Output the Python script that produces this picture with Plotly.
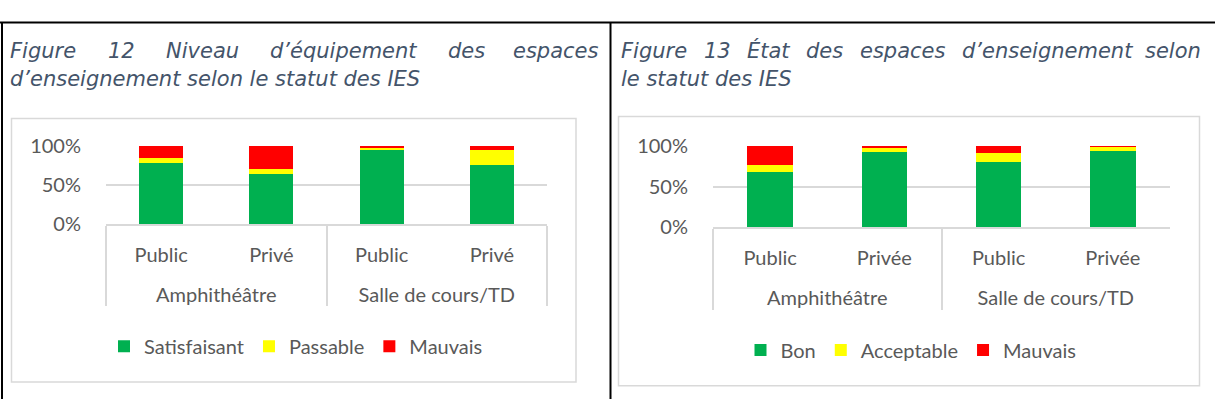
import plotly.graph_objects as go

W, H = 1215, 410

# ---------------- data ----------------
groups = ["Amphithéâtre", "Amphithéâtre", "Salle de cours/TD", "Salle de cours/TD"]
statut12 = ["Public", "Privé", "Public", "Privé"]
statut13 = ["Public", "Privée", "Public", "Privée"]

satisfaisant = [0.78, 0.64, 0.94, 0.75]
passable = [0.06, 0.06, 0.04, 0.20]
mauvais12 = [0.16, 0.30, 0.02, 0.05]

bon = [0.68, 0.92, 0.80, 0.93]
acceptable = [0.08, 0.06, 0.11, 0.06]
mauvais13 = [0.24, 0.02, 0.09, 0.01]

title12_line1 = ["Figure", "12", "Niveau", "d’équipement", "des", "espaces"]
title12_line2 = "d’enseignement selon le statut des IES"
title13_line1 = ["Figure", "13", "État", "des", "espaces", "d’enseignement", "selon"]
title13_line2 = "le statut des IES"

GREEN, YELLOW, RED = "#00B050", "#FFFF00", "#FF0000"
GRID = "#D9D9D9"
TXT = "#595959"
TITLE = "#44546A"
FONT = "Lato"


def px(x):
    return x / W


def py(y):
    return 1 - y / H


def lvl1(labels):
    # extra blank line under first-level labels to push the group labels lower
    return [s + "<br>\u00a0" for s in labels]


fig = go.Figure()

for name, vals, col in [("Satisfaisant", satisfaisant, GREEN),
                        ("Passable", passable, YELLOW),
                        ("Mauvais", mauvais12, RED)]:
    fig.add_trace(go.Bar(x=[groups, lvl1(statut12)], y=vals, name=name,
                         marker=dict(color=col, line=dict(width=0)),
                         xaxis="x", yaxis="y", legend="legend",
                         hoverinfo="skip"))

for name, vals, col in [("Bon", bon, GREEN),
                        ("Acceptable", acceptable, YELLOW),
                        ("Mauvais", mauvais13, RED)]:
    fig.add_trace(go.Bar(x=[groups, lvl1(statut13)], y=vals, name=name,
                         marker=dict(color=col, line=dict(width=0)),
                         xaxis="x2", yaxis="y2", legend="legend2",
                         hoverinfo="skip"))

tickfont = dict(family=FONT, size=20, color=TXT)

xcommon = dict(type="multicategory", showline=True, linecolor=GRID, linewidth=1.5,
               ticks="", tickfont=tickfont, showdividers=True,
               dividercolor=GRID, dividerwidth=1.5, showgrid=False,
               ticklabelstandoff=12, fixedrange=True)
ycommon = dict(range=[0, 1], tickvals=[0, 0.5, 1], tickformat=".0%",
               showgrid=True, gridcolor=GRID, gridwidth=1.5, zeroline=False,
               showline=False, ticks="", tickfont=tickfont,
               ticklabelstandoff=24, fixedrange=True)

legcommon = dict(orientation="h", xanchor="center", yanchor="middle",
                 traceorder="normal",
                 font=dict(family=FONT, size=20, color=TXT),
                 bgcolor="rgba(0,0,0,0)", itemclick=False, itemdoubleclick=False)

shapes = [
    # black table borders
    dict(type="line", xref="paper", yref="paper", x0=0, x1=1, y0=py(10), y1=py(10),
         line=dict(color="black", width=2)),
    dict(type="line", xref="paper", yref="paper", x0=px(2), x1=px(2), y0=py(10), y1=0,
         line=dict(color="black", width=2)),
    dict(type="line", xref="paper", yref="paper", x0=px(610.5), x1=px(610.5), y0=py(10), y1=0,
         line=dict(color="black", width=2)),
    # chart area boxes
    dict(type="rect", xref="paper", yref="paper", x0=px(11.5), x1=px(576), y0=py(392), y1=py(112),
         line=dict(color=GRID, width=1.5)),
    dict(type="rect", xref="paper", yref="paper", x0=px(618.5), x1=px(1199.5), y0=py(396), y1=py(110),
         line=dict(color=GRID, width=1.5)),
]

tfont = dict(family="DejaVu Sans", size=21, color=TITLE, style="italic")
annotations = []
# justified first lines (equal word gaps, as in the original document)
pos12 = [(8, "left"), (106, "left"), (164, "left"), (268, "left"), (446, "left"), (601, "right")]
for w, (x, a) in zip(title12_line1, pos12):
    annotations.append(dict(text=w, x=px(x), y=py(40), xref="paper", yref="paper",
                            xanchor=a, yanchor="middle", showarrow=False, font=tfont))
annotations.append(dict(text=title12_line2, x=px(8), y=py(70), xref="paper", yref="paper",
                        xanchor="left", yanchor="middle", showarrow=False, font=tfont))
pos13 = [(619, "left"), (702, "left"), (745, "left"), (804, "left"), (858, "left"),
         (960, "left"), (1203, "right")]
for w, (x, a) in zip(title13_line1, pos13):
    annotations.append(dict(text=w, x=px(x), y=py(40), xref="paper", yref="paper",
                            xanchor=a, yanchor="middle", showarrow=False, font=tfont))
annotations.append(dict(text=title13_line2, x=px(619), y=py(70), xref="paper", yref="paper",
                        xanchor="left", yanchor="middle", showarrow=False, font=tfont))

fig.update_layout(
    width=W, height=H, margin=dict(l=0, r=0, t=0, b=0),
    paper_bgcolor="white", plot_bgcolor="white",
    barmode="stack", bargap=0.6,
    xaxis=dict(domain=[px(106), px(547)], anchor="y", **xcommon),
    yaxis=dict(domain=[py(224), py(141)], anchor="x", **ycommon),
    xaxis2=dict(domain=[px(713), px(1170)], anchor="y2", **xcommon),
    yaxis2=dict(domain=[py(227.7), py(141)], anchor="x2", **ycommon),
    legend=dict(x=px(296), y=py(354), **legcommon),
    legend2=dict(x=px(911), y=py(358), **legcommon),
    shapes=shapes,
    annotations=annotations,
    showlegend=True,
)

fig.write_html(
    "out.html",
    config={"displayModeBar": False},
    post_script="document.body.style.margin='0';document.body.style.overflow='hidden';",
)
